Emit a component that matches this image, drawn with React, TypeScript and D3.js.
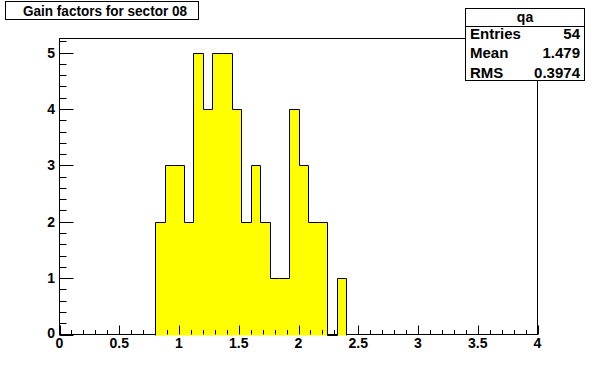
import React, { useEffect, useRef } from 'react';
import * as d3 from 'd3';

// histogram "qa": 50 bins on [0, 4], only the filled ones listed
const binLow = [0.8, 0.88, 0.96, 1.04, 1.12, 1.2, 1.28, 1.36, 1.44, 1.52, 1.6, 1.68, 1.76, 1.84, 1.92, 2.0, 2.08, 2.16, 2.24, 2.32];
const counts = [2, 3, 3, 2, 5, 4, 5, 5, 4, 2, 3, 2, 1, 1, 4, 3, 2, 2, 0, 1];
const binWidth = 0.08;

const xTickLabels = ['0', '0.5', '1', '1.5', '2', '2.5', '3', '3.5', '4'];
const yTickLabels = ['0', '1', '2', '3', '4', '5'];

const title = 'Gain factors for sector 08';
const statNames = ['Entries', 'Mean', 'RMS'];
const statValues = ['54', '1.479', '0.3974'];

const App: React.FC = () => {
  const svgRef = useRef<SVGSVGElement | null>(null);

  useEffect(() => {
    if (!svgRef.current) return;

    const width = 596;
    const height = 372;
    const frame = { left: 59.5, right: 537.5, top: 38.5, bottom: 334.5 };
    const font = '"Liberation Sans", Arial, sans-serif';

    const svg = d3.select(svgRef.current);
    svg.selectAll('*').remove();
    svg.attr('width', width).attr('height', height);

    svg.append('rect').attr('width', width).attr('height', height).attr('fill', '#fff');

    const xScale = d3.scaleLinear().domain([0, 4]).range([frame.left, frame.right]);
    const yScale = d3.scaleLinear().domain([0, 5.25]).range([frame.bottom, frame.top]);

    // frame
    svg
      .append('rect')
      .attr('x', frame.left)
      .attr('y', frame.top)
      .attr('width', frame.right - frame.left)
      .attr('height', frame.bottom - frame.top)
      .attr('fill', 'none')
      .attr('stroke', '#000');

    // histogram outline / fill
    const pts: [number, number][] = [[binLow[0], 0]];
    binLow.forEach((lo, i) => {
      pts.push([lo, counts[i]]);
      pts.push([lo + binWidth, counts[i]]);
    });
    pts.push([binLow[binLow.length - 1] + binWidth, 0]);

    const line = d3
      .line<[number, number]>()
      .x((d) => Math.round(xScale(d[0])) + 0.5)
      .y((d) => Math.round(yScale(d[1])) + 0.5);

    svg
      .append('path')
      .attr('d', line(pts)!)
      .attr('fill', '#ffff00')
      .attr('stroke', '#000')
      .attr('stroke-width', 1);

    // x axis ticks
    const xt = svg.append('g').attr('stroke', '#000');
    d3.range(0, 41).forEach((i) => {
      const v = i / 10;
      const x = Math.round(xScale(v)) + 0.5;
      const len = i % 5 === 0 ? 9 : 4.5;
      xt.append('line').attr('x1', x).attr('x2', x).attr('y1', frame.bottom).attr('y2', frame.bottom - len);
    });
    svg
      .append('g')
      .selectAll('text')
      .data(xTickLabels)
      .enter()
      .append('text')
      .attr('x', (d) => xScale(+d))
      .attr('y', 348)
      .attr('text-anchor', 'middle')
      .attr('font-family', font)
      .attr('font-weight', 'bold')
      .attr('font-size', 14)
      .text((d) => d);

    // y axis ticks
    const yt = svg.append('g').attr('stroke', '#000');
    d3.range(0, 27).forEach((i) => {
      const v = i / 5;
      const y = Math.round(yScale(v)) + 0.5;
      const len = i % 5 === 0 ? 14 : 7;
      yt.append('line').attr('x1', frame.left).attr('x2', frame.left + len).attr('y1', y).attr('y2', y);
    });
    svg
      .append('g')
      .selectAll('text')
      .data(yTickLabels)
      .enter()
      .append('text')
      .attr('x', 55)
      .attr('y', (d) => yScale(+d) + (d === '0' ? 3 : 5))
      .attr('text-anchor', 'end')
      .attr('font-family', font)
      .attr('font-weight', 'bold')
      .attr('font-size', 14)
      .text((d) => d);

    // title box
    svg
      .append('rect')
      .attr('x', 5.5)
      .attr('y', 1.5)
      .attr('width', 193)
      .attr('height', 18)
      .attr('fill', '#fff')
      .attr('stroke', '#000');
    svg
      .append('text')
      .attr('x', 105)
      .attr('y', 16)
      .attr('text-anchor', 'middle')
      .attr('font-family', font)
      .attr('font-weight', 'bold')
      .attr('font-size', 14)
      .attr('textLength', 164)
      .attr('lengthAdjust', 'spacingAndGlyphs')
      .text(title);

    // stats box
    const sb = { x: 465.5, y: 8.5, w: 119, h: 72 };
    svg
      .append('rect')
      .attr('x', sb.x)
      .attr('y', sb.y)
      .attr('width', sb.w)
      .attr('height', sb.h)
      .attr('fill', '#fff')
      .attr('stroke', '#000');
    svg
      .append('line')
      .attr('x1', sb.x)
      .attr('x2', sb.x + sb.w)
      .attr('y1', 26.5)
      .attr('y2', 26.5)
      .attr('stroke', '#000');
    svg
      .append('text')
      .attr('x', sb.x + sb.w / 2)
      .attr('y', 22)
      .attr('text-anchor', 'middle')
      .attr('font-family', font)
      .attr('font-weight', 'bold')
      .attr('font-size', 14)
      .text('qa');

    statNames.forEach((name, i) => {
      const y = 38.5 + i * 19.5;
      svg
        .append('text')
        .attr('x', 470)
        .attr('y', y)
        .attr('font-family', font)
        .attr('font-weight', 'bold')
        .attr('font-size', 15)
        .text(name);
      svg
        .append('text')
        .attr('x', 580)
        .attr('y', y)
        .attr('text-anchor', 'end')
        .attr('font-family', font)
        .attr('font-weight', 'bold')
        .attr('font-size', 15)
        .text(statValues[i]);
    });
  }, []);

  return (
    <div style={{ position: 'absolute', left: 0, top: 0 }}>
      <svg ref={svgRef} style={{ display: 'block' }}></svg>
    </div>
  );
};

export default App;
